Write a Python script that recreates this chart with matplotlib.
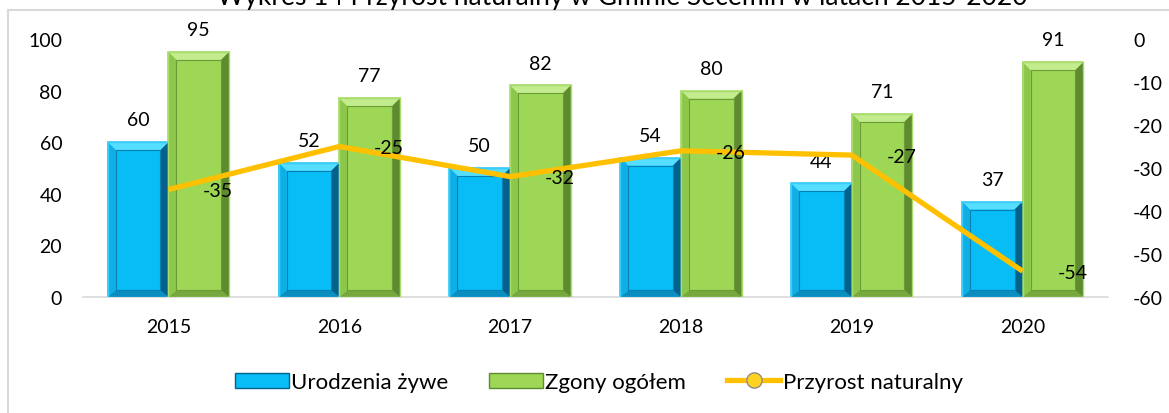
import matplotlib
matplotlib.use("Agg")
import matplotlib.pyplot as plt
from matplotlib.lines import Line2D
from matplotlib.patches import Patch, Circle
import numpy as np

years = ["2015", "2016", "2017", "2018", "2019", "2020"]
births = [60, 52, 50, 54, 44, 37]
deaths = [95, 77, 82, 80, 71, 91]
growth = [-35, -25, -32, -26, -27, -54]

title = "Wykres 14 Przyrost naturalny w Gminie Secemin w latach 2015-2020"
labels = ["Urodzenia żywe", "Zgony ogółem", "Przyrost naturalny"]

plt.rcParams['font.family'] = ['Lato', 'DejaVu Sans']
plt.rcParams['axes.unicode_minus'] = False
FS = 14

W, H = 1169, 414
fig = plt.figure(figsize=(W / 100, H / 100), dpi=100)
ax = fig.add_axes([83 / W, 1 - 298 / H, (1108 - 83) / W, (298 - 40) / H])
ax2 = ax.twinx()

x = np.arange(len(years))
bw = 0.355
ax.set_xlim(-0.5, len(years) - 0.5)
ax.set_ylim(0, 100)
ax2.set_ylim(-60, 0)

ax_w_px = (1108 - 83)
ax_h_px = (298 - 40)
dx = 8 / ax_w_px * len(years)   # inset in data x units
dy = 8 / ax_h_px * 100          # inset in data y units

blue = dict(face="#08BDF5", edge="#3ACBF6", top="#55DEFF", left="#0FAFE6",
            right="#03618C", bottom="#0A8EBF", inner="#0680B2")
green = dict(face="#9DD755", edge="#A9DC6B", top="#C3EC8E", left="#8CC64B",
             right="#5E8B2F", bottom="#76A83E", inner="#6C9C37")


def bevel_bar(xc, h, pal):
    l, r = xc - bw / 2, xc + bw / 2
    ax.bar(xc, h, width=bw, color=pal["face"], edgecolor=pal["edge"], linewidth=1.2, zorder=2)
    il, ir, ib, it = l + dx, r - dx, dy * 0.85, h - dy
    ax.fill([l, r, ir, il], [h, h, it, it], color=pal["top"], lw=0, zorder=3)
    ax.fill([l, r, ir, il], [0, 0, ib, ib], color=pal["bottom"], lw=0, zorder=3)
    ax.fill([l, il, il, l], [0, ib, it, h], color=pal["left"], lw=0, zorder=3)
    ax.fill([r, ir, ir, r], [0, ib, it, h], color=pal["right"], lw=0, zorder=3)
    ax.fill([il, ir, ir, il], [ib, ib, it, it], facecolor=pal["face"],
            edgecolor=pal["inner"], lw=0.8, zorder=3)
    ax.plot([l, r, r, l, l], [0, 0, h, h, 0], color=pal["edge"], lw=1.0, zorder=3)


for i in range(len(years)):
    bevel_bar(x[i] - bw / 2, births[i], blue)
    bevel_bar(x[i] + bw / 2, deaths[i], green)
    ax.annotate(str(births[i]), (x[i] - bw / 2, births[i]), xytext=(0, 10),
                textcoords="offset points", ha="center", va="bottom", fontsize=FS, color="#000000")
    ax.annotate(str(deaths[i]), (x[i] + bw / 2, deaths[i]), xytext=(0, 10),
                textcoords="offset points", ha="center", va="bottom", fontsize=FS, color="#000000")

ax2.plot(x, growth, color="#FFC000", lw=3.8, zorder=5, solid_capstyle="butt")
for i in range(len(years)):
    ax2.annotate(str(growth[i]), (x[i], growth[i]), xytext=(25, -1),
                 textcoords="offset points", ha="left", va="center", fontsize=FS, color="#000000",
                 zorder=6)
ax2.set_zorder(ax.get_zorder() + 1)
ax2.patch.set_visible(False)

ax.set_xticks(x)
ax.set_xticklabels(years)
ax.set_yticks(np.arange(0, 101, 20))
ax2.set_yticks(np.arange(-60, 1, 10))
ax.tick_params(axis="x", length=0, pad=15, labelsize=FS)
ax.tick_params(axis="y", length=0, pad=15, labelsize=FS)
ax2.tick_params(axis="y", length=0, pad=18, labelsize=FS)
for a in (ax, ax2):
    for s in a.spines.values():
        s.set_visible(False)
ax.spines["bottom"].set_visible(True)
ax.spines["bottom"].set_color("#D9D9D9")
ax.spines["bottom"].set_linewidth(1.2)

# frame
fig.add_artist(Line2D([8 / W, 1.0], [1 - 11 / H, 1 - 11 / H], color="#D9D9D9", lw=1.5))
fig.add_artist(Line2D([8 / W, 8 / W], [0, 1 - 11 / H], color="#D9D9D9", lw=1.5))

# title (cut at top, as in the reference)
fig.text(622 / W, 1 - 5 / H, title, ha="center", va="baseline", fontsize=19, color="#000000")

handles = [
    Patch(facecolor=blue["face"], edgecolor=blue["right"], linewidth=1),
    Patch(facecolor=green["face"], edgecolor=green["right"], linewidth=1),
    Line2D([0], [0], color="#FFC000", lw=3.8, marker="o", markersize=11,
           markerfacecolor="#FFD21F", markeredgecolor="#8C8C8C", markeredgewidth=1),
]
fig.legend(handles, labels, loc="center", bbox_to_anchor=(599 / W, 1 - 383 / H),
           ncol=3, frameon=False, fontsize=16, handlelength=2.4, handleheight=0.65,
           handletextpad=0.1, columnspacing=1.85)

# decorative partial marker at bottom right
fig.add_artist(Circle((1012 / W, 1 - 421 / H), 15 / W, transform=fig.transFigure,
                      facecolor="#F5E400", edgecolor="#A8A8A8", lw=1))

fig.savefig("out.png", dpi=100)
